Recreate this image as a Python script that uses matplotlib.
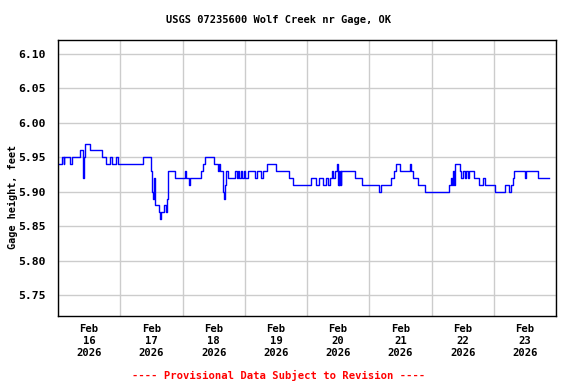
import matplotlib
matplotlib.use("Agg")
import matplotlib.pyplot as plt
import numpy as np
from datetime import datetime, timedelta

# Stage change points: hours after Feb 16 2026 00:00, gage height (ft)
hours = [0.0, 1.7, 2.2, 2.4, 4.8, 5.3, 8.6, 9.8, 10.1, 10.4, 12.2, 16.8, 18.6,
         20.2, 20.7, 22.4, 23.0, 32.6, 36.0, 36.2, 36.5, 37.0, 37.3, 37.5,
         38.8, 39.3, 39.8, 40.9, 41.6, 42.1, 42.4, 45.2, 48.8, 49.3, 50.4,
         50.9, 55.0, 56.0, 56.8, 60.1, 61.7, 61.9, 62.5, 63.5, 63.7, 64.0,
         64.5, 64.8, 65.5, 68.4, 68.9, 69.4, 69.9, 70.4, 70.9, 71.7, 72.2,
         73.2, 76.1, 76.6, 78.4, 78.9, 80.7, 84.0, 88.9, 90.7, 97.4, 99.5,
         100.5, 102.3, 103.3, 104.1, 104.9, 105.5, 106.1, 106.9, 107.4,
         107.9, 108.2, 108.4, 108.7, 109.0, 109.2, 114.4, 117.2, 123.9,
         124.4, 128.5, 129.5, 130.4, 131.8, 135.7, 136.2, 137.0, 138.8,
         141.4, 150.9, 151.4, 151.9, 152.4, 152.7, 153.2, 154.8, 155.5,
         156.2, 156.8, 157.3, 158.0, 158.4, 160.4, 162.2, 163.9, 164.8,
         168.3, 172.4, 174.0, 174.8, 175.3, 175.8, 180.2, 180.6, 185.0, 189.2]
stage = [5.94, 5.95, 5.94, 5.95, 5.94, 5.95, 5.96, 5.92, 5.95, 5.97, 5.96, 5.95, 5.94,
         5.95, 5.94, 5.95, 5.94, 5.95, 5.93, 5.90, 5.89, 5.92, 5.89, 5.88,
         5.87, 5.86, 5.87, 5.88, 5.87, 5.89, 5.93, 5.92, 5.93, 5.92, 5.91,
         5.92, 5.93, 5.94, 5.95, 5.94, 5.93, 5.94, 5.93, 5.91, 5.90, 5.89,
         5.91, 5.93, 5.92, 5.93, 5.92, 5.93, 5.92, 5.93, 5.92, 5.93, 5.92,
         5.93, 5.92, 5.93, 5.92, 5.93, 5.94, 5.93, 5.92, 5.91, 5.92, 5.91,
         5.92, 5.91, 5.92, 5.91, 5.92, 5.93, 5.92, 5.93, 5.94,
         5.91, 5.93, 5.91, 5.93, 5.91, 5.93, 5.92, 5.91, 5.90,
         5.91, 5.92, 5.93, 5.94, 5.93, 5.94, 5.93, 5.92, 5.91,
         5.90, 5.91, 5.92, 5.91, 5.93, 5.91, 5.94, 5.93, 5.92,
         5.93, 5.92, 5.93, 5.92, 5.93, 5.92, 5.91, 5.92, 5.91,
         5.90, 5.91, 5.90, 5.91, 5.92, 5.93, 5.92, 5.93, 5.92, 5.92]

y_ticks = [5.75, 5.80, 5.85, 5.90, 5.95, 6.00, 6.05, 6.10]
day_labels = ["Feb\n16\n2026", "Feb\n17\n2026", "Feb\n18\n2026", "Feb\n19\n2026",
              "Feb\n20\n2026", "Feb\n21\n2026", "Feb\n22\n2026", "Feb\n23\n2026"]

start = datetime(2026, 2, 16)
times = [start + timedelta(hours=h) for h in hours]

font = "DejaVu Sans Mono"
fig = plt.figure(figsize=(5.76, 3.84), dpi=100)
ax = fig.add_axes([0.1007, 0.1771, 0.8646, 0.7187])

ax.plot(times, stage, color="#0000ff", linewidth=1.0, drawstyle="steps-post")

ax.set_xlim(start, start + timedelta(days=8))
ax.set_ylim(5.7195, 6.1203)

midnights = [start + timedelta(days=i) for i in range(9)]
noons = [start + timedelta(days=i, hours=12) for i in range(8)]
ax.set_xticks(midnights)
ax.set_xticklabels([])
ax.set_xticks(noons, minor=True)
ax.set_xticklabels(day_labels, minor=True, fontfamily=font, fontweight="bold",
                   fontsize=7.6, linespacing=1.2)
ax.tick_params(axis="x", which="both", length=0)
ax.tick_params(axis="x", which="minor", pad=6)

ax.set_yticks(y_ticks)
ax.set_yticklabels([f"{v:.2f}" for v in y_ticks], fontfamily=font,
                   fontweight="bold", fontsize=8.2)
ax.tick_params(axis="y", length=0, pad=9)

ax.grid(True, which="major", color="#cccccc", linewidth=1.0)
ax.set_axisbelow(True)
for s in ax.spines.values():
    s.set_color("black")
    s.set_linewidth(1.0)

ax.set_ylabel("Gage height, feet", fontfamily=font, fontweight="bold",
              fontsize=7.3)
ax.yaxis.set_label_coords(-0.081, 0.43)
fig.text(0.484, 0.947, "USGS 07235600 Wolf Creek nr Gage, OK", ha="center",
         va="center", fontfamily=font, fontweight="bold", fontsize=7.5)
fig.text(0.484, 0.023, "---- Provisional Data Subject to Revision ----",
         ha="center", va="center", color="red", fontfamily=font,
         fontweight="bold", fontsize=7.6)

fig.savefig("out.png", dpi=100)
